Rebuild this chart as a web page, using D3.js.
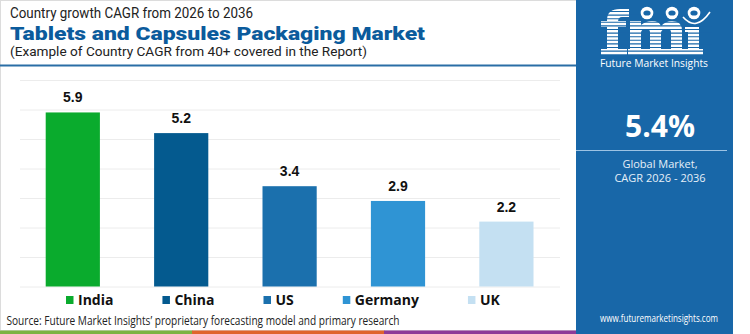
<!DOCTYPE html>
<html>
<head>
<meta charset="utf-8">
<script src="https://cdn.jsdelivr.net/npm/d3@7"></script>
<style>
  body { margin: 0; background: #fff; }
  svg { display: block; }
</style>
</head>
<body>
<svg id="chart"></svg>
<script>
var countries = ['India', 'China', 'US', 'Germany', 'UK'];
var cagr = [5.9, 5.2, 3.4, 2.9, 2.2];
var gridTicks = [0, 1, 2, 3, 4, 5, 6, 7];
var barColors = ['#0aab2d', '#045a8f', '#1b70ad', '#2f94d4', '#c4e0f2'];
var globalCagr = '5.4%';

var width = 750, height = 334;
var svg = d3.select('#chart').attr('width', width).attr('height', height);
var blue = '#1867a8';

// left white area border
svg.append('rect').attr('x', 0.5).attr('y', 0.5).attr('width', 576).attr('height', 330)
  .attr('fill', '#fff').attr('stroke', '#dcdcdc');

// titles
svg.append('text').attr('x', 10).attr('y', 18)
  .attr('font-family', 'Roboto, sans-serif').attr('font-size', 14).attr('fill', '#222')
  .attr('textLength', 243).attr('lengthAdjust', 'spacingAndGlyphs')
  .text('Country growth CAGR from 2026 to 2036');
svg.append('text').attr('x', 10).attr('y', 39.5)
  .attr('font-family', 'Roboto, sans-serif').attr('font-weight', 900).attr('font-size', 19).attr('fill', '#0b5b9c')
  .attr('textLength', 415).attr('lengthAdjust', 'spacingAndGlyphs')
  .text('Tablets and Capsules Packaging Market');
svg.append('text').attr('x', 10).attr('y', 56.2)
  .attr('font-family', 'Roboto, sans-serif').attr('font-size', 13).attr('fill', '#222')
  .attr('textLength', 357).attr('lengthAdjust', 'spacingAndGlyphs')
  .text('(Example of Country CAGR from 40+ covered in the Report)');

// blue rule under title
svg.append('line').attr('x1', 0).attr('x2', 576).attr('y1', 65.5).attr('y2', 65.5)
  .attr('stroke', '#2a6ea6').attr('stroke-width', 2);

// scales
var x = d3.scaleBand().domain(countries).range([18.6, 560.6]).paddingInner(0.5).paddingOuter(0.25);
var y = d3.scaleLinear().domain([0, 7]).range([286.5, 80]);
var color = d3.scaleOrdinal().domain(countries).range(barColors);

// gridlines
var grid = d3.axisLeft(y).tickValues(gridTicks).tickSize(-540).tickFormat('');
svg.append('g').attr('transform', 'translate(20,0)').call(grid)
  .call(function (g) { g.select('.domain').remove(); })
  .selectAll('line').attr('stroke', '#ececec').attr('stroke-width', 1);

var data = countries.map(function (c, i) { return { name: c, value: cagr[i] }; });

svg.selectAll('rect.bar').data(data).enter().append('rect')
  .attr('class', 'bar')
  .attr('x', function (d) { return x(d.name); })
  .attr('width', x.bandwidth())
  .attr('y', function (d) { return y(d.value); })
  .attr('height', function (d) { return y(0) - y(d.value); })
  .attr('fill', function (d) { return color(d.name); });

svg.selectAll('text.val').data(data).enter().append('text')
  .attr('class', 'val')
  .attr('x', function (d) { return x(d.name) + x.bandwidth() / 2; })
  .attr('y', function (d) { return y(d.value) - 10; })
  .attr('text-anchor', 'middle')
  .attr('font-family', 'Liberation Sans, Arial, sans-serif').attr('font-weight', 'bold')
  .attr('font-size', 14).attr('fill', '#111')
  .text(function (d) { return d.value.toFixed(1); });

// legend
var legend = svg.append('g');
var lx = 66;
countries.forEach(function (c) {
  var item = legend.append('g').attr('transform', 'translate(' + lx + ',0)');
  item.append('rect').attr('x', 0).attr('y', 296).attr('width', 7.5).attr('height', 8).attr('fill', color(c));
  var t = item.append('text').attr('x', 12).attr('y', 304.5)
    .attr('font-family', 'Open Sans, sans-serif').attr('font-weight', 'bold')
    .attr('font-size', 14).attr('fill', '#111').text(c);
  lx += 12 + t.node().getComputedTextLength() + 49;
});

svg.append('text').attr('x', 6.5).attr('y', 325)
  .attr('font-family', 'Open Sans, sans-serif').attr('font-size', 12.5).attr('fill', '#222')
  .attr('textLength', 393).attr('lengthAdjust', 'spacingAndGlyphs')
  .text('Source: Future Market Insights\u2019 proprietary forecasting model and primary research');

// bottom colour strip
var stripColors = ['#7cb342', '#e0642c', '#8e3b98'];
var strip = d3.scaleBand().domain(stripColors).range([0, 576]);
svg.selectAll('rect.strip').data(stripColors).enter().append('rect')
  .attr('x', function (d) { return strip(d); }).attr('y', 330.5)
  .attr('width', strip.bandwidth() + 0.5).attr('height', 3.5).attr('fill', function (d) { return d; });

// right panel
var panel = svg.append('g');
panel.append('rect').attr('x', 576).attr('y', 0).attr('width', 157).attr('height', 334).attr('fill', blue);
var cx = 656;

// logo: striped "fmi" drawn as shapes
var logo = panel.append('g').attr('fill', '#fff');
// f
logo.append('path').attr('d', 'M607,55 L607,20 Q607,9 620,9 L629,9 L629,17 L622,17 Q618,17 618,22 L618,55 Z');
logo.append('rect').attr('x', 601).attr('y', 21).attr('width', 25).attr('height', 6);
logo.append('rect').attr('x', 601).attr('y', 49).attr('width', 26).attr('height', 6);
// m
logo.append('path').attr('d', 'M630,55 L630,21 L641,21 L641,25 Q646,21 652,21 Q659,21 661,26 Q666,21 672,21 Q682,21 682,31 L682,55 L671,55 L671,32 Q671,29 667,29 Q661,29 661,33 L661,55 L650,55 L650,32 Q650,29 646,29 Q641,29 641,33 L641,55 Z');
logo.append('rect').attr('x', 628).attr('y', 49).attr('width', 57).attr('height', 6);
// i
logo.append('rect').attr('x', 688).attr('y', 27).attr('width', 11).attr('height', 28);
logo.append('rect').attr('x', 685).attr('y', 27).attr('width', 12).attr('height', 5);
logo.append('rect').attr('x', 685).attr('y', 49).attr('width', 18).attr('height', 6);
// stripes through the letters
for (var s = 11.5; s < 56; s += 3.6) {
  logo.append('line').attr('x1', 598).attr('x2', 712).attr('y1', s).attr('y2', s)
    .attr('stroke', blue).attr('stroke-width', 1.1);
}
// globe icons and arc
[647, 672, 694].forEach(function (px) {
  logo.append('circle').attr('cx', px).attr('cy', 13).attr('r', 6.3).attr('fill', '#fff');
  logo.append('ellipse').attr('cx', px).attr('cy', 13).attr('rx', 3.6).attr('ry', 2.6).attr('fill', blue);
});
logo.append('path').attr('d', 'M683,17 Q696,32 710,12').attr('fill', 'none').attr('stroke', '#fff').attr('stroke-width', 1.6);

panel.append('text').attr('x', 654).attr('y', 67).attr('text-anchor', 'middle')
  .attr('font-family', 'Open Sans, sans-serif').attr('font-size', 10.5).attr('fill', '#fff')
  .attr('textLength', 108).attr('lengthAdjust', 'spacingAndGlyphs').text('Future Market Insights');

panel.append('text').attr('x', cx + 4).attr('y', 136.5).attr('text-anchor', 'middle')
  .attr('font-family', 'Open Sans, sans-serif').attr('font-weight', 'bold').attr('font-size', 30)
  .attr('fill', '#fff').text(globalCagr);

panel.append('line').attr('x1', 576).attr('x2', 727).attr('y1', 150.5).attr('y2', 150.5)
  .attr('stroke', '#9cc3e4').attr('stroke-width', 1.2);

panel.append('text').attr('x', cx + 4).attr('y', 168).attr('text-anchor', 'middle')
  .attr('font-family', 'Open Sans, sans-serif').attr('font-size', 11).attr('fill', '#e6f0f8')
  .text('Global Market,');
panel.append('text').attr('x', cx + 4).attr('y', 182).attr('text-anchor', 'middle')
  .attr('font-family', 'Open Sans, sans-serif').attr('font-size', 11).attr('fill', '#e6f0f8')
  .text('CAGR 2026 - 2036');

panel.append('text').attr('x', cx + 3).attr('y', 322).attr('text-anchor', 'middle')
  .attr('font-family', 'Open Sans, sans-serif').attr('font-size', 10).attr('fill', '#fff')
  .attr('textLength', 118).attr('lengthAdjust', 'spacingAndGlyphs').text('www.futuremarketinsights.com');
</script>
</body>
</html>
